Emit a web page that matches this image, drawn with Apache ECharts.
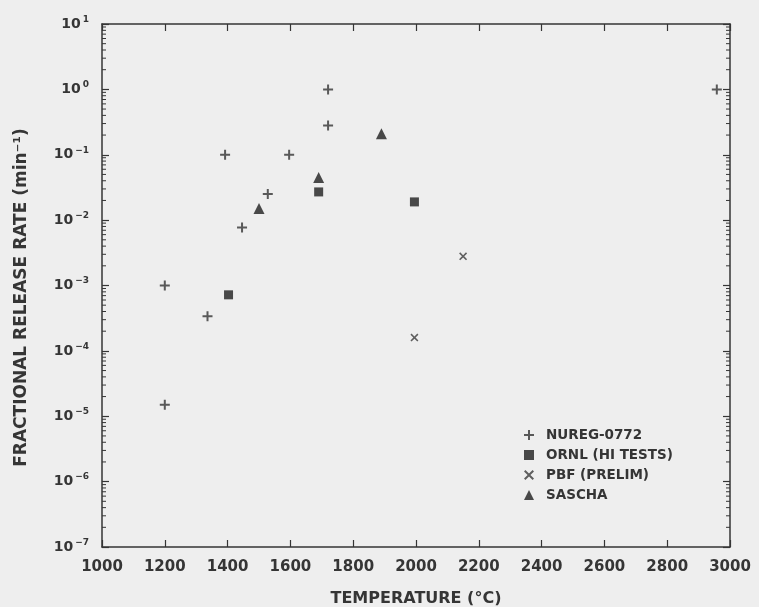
<!DOCTYPE html>
<html>
<head>
<meta charset="utf-8">
<script src="https://cdn.jsdelivr.net/npm/echarts@6/dist/echarts.min.js"></script>
<style>
  html, body { margin: 0; padding: 0; background: #eeeeee; }
  #chart { width: 759px; height: 607px; }
</style>
</head>
<body>
<div id="chart"></div>
<script>
// temperatures (°C) and fractional release rates (min^-1)
const nuregTemp = [1200, 1200, 1336, 1392, 1446, 1528, 1596, 1720, 1720, 2958];
const nuregRate = [1.0e-3, 1.5e-5, 3.4e-4, 0.1, 7.7e-3, 2.5e-2, 0.1, 1.0, 0.28, 1.0];

const ornlTemp = [1403, 1690, 1995];
const ornlRate = [7.2e-4, 2.7e-2, 1.9e-2];

const pbfTemp = [2150, 1995];
const pbfRate = [2.8e-3, 1.6e-4];

const saschaTemp = [1500, 1690, 1890];
const saschaRate = [1.5e-2, 4.5e-2, 0.21];

const seriesNames = ['NUREG-0772', 'ORNL (HI TESTS)', 'PBF (PRELIM)', 'SASCHA'];

const yMin = 1e-7, yMax = 10;

// log minor ticks 2..9 in every decade
const minorTicks = [];
for (let e = -7; e < 1; e++) {
  for (let m = 2; m <= 9; m++) minorTicks.push([m * Math.pow(10, e)]);
}

const ink = '#353535';
const font = 'DejaVu Sans';
const plusPath = 'path://M4,0H6V4H10V6H6V10H4V6H0V4H4Z';
const crossPath = 'path://M0,1.4L1.4,0L5,3.6L8.6,0L10,1.4L6.4,5L10,8.6L8.6,10L5,6.4L1.4,10L0,8.6L3.6,5Z';

const zip = (xs, ys) => xs.map((x, i) => [x, ys[i]]);

const chart = echarts.init(document.getElementById('chart'));

const tickStyle = { show: true, inside: true, length: 7, lineStyle: { color: ink, width: 1.2 } };
const lineStyle = { show: true, lineStyle: { color: ink, width: 1.5 } };

const option = {
  backgroundColor: '#eeeeee',
  animation: false,
  grid: { left: 102, top: 24, right: 29, bottom: 60, outerBoundsMode: 'none', containLabel: false },
  legend: {
    orient: 'vertical',
    left: 519,
    top: 423,
    itemWidth: 10,
    itemHeight: 10,
    itemGap: 6,
    textStyle: { fontFamily: font, fontWeight: 'bold', fontSize: 13.5, color: ink, padding: [0, 0, 0, 7] },
    data: [
      { name: seriesNames[0], icon: plusPath },
      { name: seriesNames[1], icon: 'rect' },
      { name: seriesNames[2], icon: crossPath },
      { name: seriesNames[3], icon: 'triangle' }
    ]
  },
  xAxis: [
    {
      type: 'value',
      min: 1000,
      max: 3000,
      interval: 200,
      name: 'TEMPERATURE (°C)',
      nameLocation: 'middle',
      nameGap: 44,
      nameTextStyle: { fontFamily: font, fontWeight: 'bold', fontSize: 16, color: ink },
      axisLine: lineStyle,
      axisTick: tickStyle,
      axisLabel: { margin: 13, formatter: v => String(v), fontFamily: font, fontWeight: 'bold', fontSize: 15, color: ink },
      splitLine: { show: false }
    },
    {
      type: 'value',
      position: 'top',
      min: 1000,
      max: 3000,
      interval: 200,
      axisLine: lineStyle,
      axisTick: tickStyle,
      axisLabel: { show: false },
      splitLine: { show: false }
    }
  ],
  yAxis: [
    {
      type: 'log',
      logBase: 10,
      min: yMin,
      max: yMax,
      name: 'FRACTIONAL RELEASE RATE (min⁻¹)',
      nameLocation: 'middle',
      nameRotate: 90,
      nameGap: 72,
      nameTextStyle: { fontFamily: font, fontWeight: 'bold', fontSize: 17, color: ink, padding: [0, 24, 0, 0] },
      axisLine: lineStyle,
      axisTick: tickStyle,
      axisLabel: {
        margin: 13,
        formatter: v => {
          const e = Math.round(Math.log10(v));
          return '{b|10}{s|' + (e < 0 ? '−' + (-e) : e) + '}';
        },
        rich: {
          b: { fontFamily: font, fontWeight: 'bold', fontSize: 14, color: ink },
          s: { fontFamily: font, fontWeight: 'bold', fontSize: 9, color: ink, padding: [0, 0, 9, 2] }
        }
      },
      splitLine: { show: false }
    },
    {
      type: 'log',
      logBase: 10,
      position: 'right',
      min: yMin,
      max: yMax,
      axisLine: lineStyle,
      axisTick: tickStyle,
      axisLabel: { show: false },
      splitLine: { show: false }
    }
  ],
  series: [
    {
      type: 'custom',
      silent: true,
      data: minorTicks,
      renderItem: (params, api) => {
        const v = api.value(0);
        const l = api.coord([1000, v]);
        const r = api.coord([3000, v]);
        const st = { stroke: ink, lineWidth: 1 };
        return {
          type: 'group',
          children: [
            { type: 'line', shape: { x1: l[0], y1: l[1], x2: l[0] + 4, y2: l[1] }, style: st },
            { type: 'line', shape: { x1: r[0], y1: r[1], x2: r[0] - 4, y2: r[1] }, style: st }
          ]
        };
      },
      encode: { y: 0 },
      z: 1
    },
    {
      name: seriesNames[0],
      type: 'scatter',
      symbol: plusPath,
      symbolSize: 10,
      itemStyle: { color: '#333' },
      data: zip(nuregTemp, nuregRate)
    },
    {
      name: seriesNames[1],
      type: 'scatter',
      symbol: 'rect',
      symbolSize: 9,
      itemStyle: { color: '#1e1e1e' },
      data: zip(ornlTemp, ornlRate)
    },
    {
      name: seriesNames[2],
      type: 'scatter',
      symbol: crossPath,
      symbolSize: 8,
      itemStyle: { color: '#3a3a3a' },
      data: zip(pbfTemp, pbfRate)
    },
    {
      name: seriesNames[3],
      type: 'scatter',
      symbol: 'triangle',
      symbolSize: 11,
      itemStyle: { color: '#1e1e1e' },
      data: zip(saschaTemp, saschaRate)
    }
  ]
};

chart.setOption(option);
</script>
</body>
</html>
